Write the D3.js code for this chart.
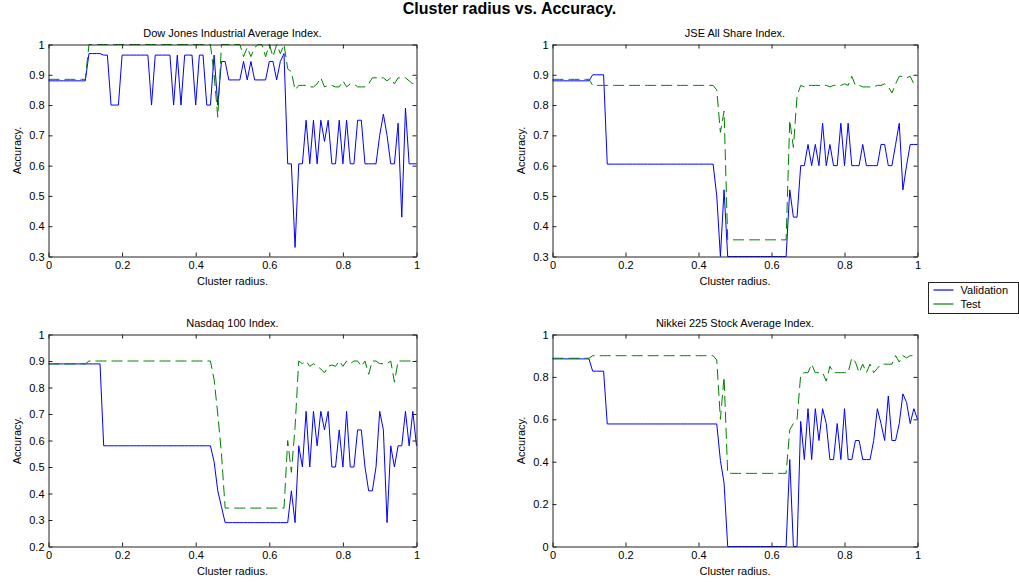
<!DOCTYPE html>
<html>
<head>
<meta charset="utf-8">
<script src="https://cdn.jsdelivr.net/npm/d3@7"></script>
<style>
  body { margin: 0; background: #fff; }
  text { font-family: "Liberation Sans", Arial, sans-serif; fill: #000; }
</style>
</head>
<body>
<div id="chart"></div>
<script>
// cluster radius samples (x axis)
const radius = [0,0.01,0.02,0.03,0.04,0.05,0.06,0.07,0.08,0.09,
  0.1,0.11,0.12,0.13,0.14,0.15,0.16,0.17,0.18,0.19,
  0.2,0.21,0.22,0.23,0.24,0.25,0.26,0.27,0.28,0.29,
  0.3,0.31,0.32,0.33,0.34,0.35,0.36,0.37,0.38,0.39,
  0.4,0.41,0.42,0.43,0.44,0.45,0.46,0.47,0.48,0.49,
  0.5,0.51,0.52,0.53,0.54,0.55,0.56,0.57,0.58,0.59,
  0.6,0.61,0.62,0.63,0.64,0.65,0.66,0.67,0.68,0.69,
  0.7,0.71,0.72,0.73,0.74,0.75,0.76,0.77,0.78,0.79,
  0.8,0.81,0.82,0.83,0.84,0.85,0.86,0.87,0.88,0.89,
  0.9,0.91,0.92,0.93,0.94,0.95,0.96,0.97,0.98,0.99,1];

const djValidation = [0.88,0.88,0.88,0.88,0.88,0.88,0.88,0.88,0.88,0.88,
  0.88,0.97,0.97,0.97,0.97,0.965,0.965,0.8,0.8,0.8,
  0.965,0.965,0.965,0.965,0.965,0.965,0.965,0.965,0.8,0.965,
  0.965,0.965,0.965,0.965,0.8,0.965,0.8,0.965,0.965,0.965,
  0.8,0.965,0.965,0.8,0.8,0.965,0.8,0.944,0.944,0.883,
  0.883,0.883,0.883,0.944,0.883,0.944,0.883,0.883,0.883,0.883,
  0.944,0.944,0.883,0.944,0.97,0.606,0.606,0.33,0.606,0.606,
  0.75,0.606,0.75,0.606,0.75,0.68,0.75,0.606,0.606,0.75,
  0.606,0.75,0.606,0.606,0.75,0.75,0.606,0.606,0.606,0.606,
  0.70,0.77,0.70,0.606,0.606,0.74,0.43,0.79,0.606,0.606,0.606];
const djTest = [0.885,0.885,0.885,0.885,0.885,0.885,0.885,0.885,0.885,0.885,
  0.885,1,1,1,1,1,1,1,1,1,
  1,1,1,1,1,1,1,1,1,1,
  1,1,1,1,1,1,1,1,1,1,
  1,1,1,1,1,0.9,0.76,1,1,1,
  1,1,1,0.96,0.99,0.96,0.99,1,1,0.96,
  1,0.96,1,0.97,1,0.92,0.91,0.85,0.865,0.865,
  0.865,0.86,0.86,0.87,0.89,0.86,0.865,0.865,0.86,0.86,
  0.88,0.86,0.87,0.87,0.86,0.86,0.86,0.87,0.89,0.89,
  0.89,0.89,0.88,0.89,0.87,0.89,0.89,0.89,0.88,0.87,0.89];

const jseValidation = [0.88,0.88,0.88,0.88,0.88,0.88,0.88,0.88,0.88,0.88,
  0.88,0.9,0.9,0.9,0.9,0.605,0.605,0.605,0.605,0.605,
  0.605,0.605,0.605,0.605,0.605,0.605,0.605,0.605,0.605,0.605,
  0.605,0.605,0.605,0.605,0.605,0.605,0.605,0.605,0.605,0.605,
  0.605,0.605,0.605,0.605,0.605,0.5,0.3,0.52,0.3,0.3,
  0.3,0.3,0.3,0.3,0.3,0.3,0.3,0.3,0.3,0.3,
  0.3,0.3,0.3,0.3,0.3,0.52,0.43,0.43,0.6,0.6,
  0.67,0.6,0.67,0.6,0.74,0.6,0.67,0.6,0.6,0.74,
  0.6,0.74,0.6,0.6,0.6,0.67,0.6,0.6,0.6,0.6,
  0.67,0.67,0.6,0.6,0.67,0.74,0.52,0.6,0.67,0.67,0.67];
const jseTest = [0.885,0.885,0.885,0.885,0.885,0.885,0.885,0.885,0.885,0.885,
  0.885,0.865,0.865,0.865,0.865,0.865,0.865,0.865,0.865,0.865,
  0.865,0.865,0.865,0.865,0.865,0.865,0.865,0.865,0.865,0.865,
  0.865,0.865,0.865,0.865,0.865,0.865,0.865,0.865,0.865,0.865,
  0.865,0.865,0.865,0.865,0.865,0.85,0.71,0.78,0.355,0.355,
  0.355,0.355,0.355,0.355,0.355,0.355,0.355,0.355,0.355,0.355,
  0.355,0.355,0.355,0.355,0.355,0.75,0.66,0.83,0.865,0.86,
  0.865,0.865,0.865,0.865,0.865,0.865,0.86,0.865,0.865,0.865,
  0.87,0.865,0.895,0.865,0.865,0.86,0.86,0.86,0.86,0.865,
  0.865,0.87,0.86,0.84,0.87,0.895,0.895,0.89,0.895,0.87,0.86];

const nasdaqValidation = [0.889,0.889,0.889,0.889,0.889,0.889,0.889,0.889,0.889,0.889,
  0.889,0.889,0.889,0.889,0.889,0.58,0.58,0.58,0.58,0.58,
  0.58,0.58,0.58,0.58,0.58,0.58,0.58,0.58,0.58,0.58,
  0.58,0.58,0.58,0.58,0.58,0.58,0.58,0.58,0.58,0.58,
  0.58,0.58,0.58,0.58,0.58,0.52,0.41,0.35,0.29,0.29,
  0.29,0.29,0.29,0.29,0.29,0.29,0.29,0.29,0.29,0.29,
  0.29,0.29,0.29,0.29,0.29,0.29,0.41,0.29,0.58,0.5,
  0.71,0.5,0.71,0.58,0.71,0.64,0.71,0.5,0.5,0.64,
  0.5,0.71,0.5,0.5,0.64,0.64,0.5,0.41,0.41,0.5,
  0.71,0.64,0.29,0.58,0.5,0.58,0.58,0.71,0.58,0.71,0.58];
const nasdaqTest = [0.889,0.889,0.889,0.889,0.889,0.889,0.889,0.889,0.889,0.889,
  0.889,0.9,0.9,0.9,0.9,0.9,0.9,0.9,0.9,0.9,
  0.9,0.9,0.9,0.9,0.9,0.9,0.9,0.9,0.9,0.9,
  0.9,0.9,0.9,0.9,0.9,0.9,0.9,0.9,0.9,0.9,
  0.9,0.9,0.9,0.9,0.9,0.83,0.7,0.55,0.345,0.345,
  0.345,0.345,0.345,0.345,0.345,0.345,0.345,0.345,0.345,0.345,
  0.345,0.345,0.345,0.345,0.345,0.6,0.48,0.65,0.9,0.89,
  0.9,0.88,0.89,0.88,0.87,0.855,0.88,0.885,0.88,0.9,
  0.88,0.9,0.89,0.9,0.9,0.88,0.9,0.85,0.9,0.9,
  0.89,0.89,0.89,0.9,0.82,0.9,0.9,0.9,0.9,0.9,0.9];

const nikkeiValidation = [0.885,0.885,0.885,0.885,0.885,0.885,0.885,0.885,0.885,0.885,
  0.885,0.827,0.827,0.827,0.827,0.578,0.578,0.578,0.578,0.578,
  0.578,0.578,0.578,0.578,0.578,0.578,0.578,0.578,0.578,0.578,
  0.578,0.578,0.578,0.578,0.578,0.578,0.578,0.578,0.578,0.578,
  0.578,0.578,0.578,0.578,0.578,0.578,0.406,0.3,0,0,
  0,0,0,0,0,0,0,0,0,0,
  0,0,0,0,0,0.41,0,0,0.59,0.41,
  0.65,0.41,0.65,0.5,0.65,0.58,0.41,0.41,0.58,0.41,
  0.65,0.41,0.41,0.5,0.5,0.41,0.41,0.41,0.5,0.65,
  0.58,0.5,0.71,0.5,0.5,0.58,0.72,0.68,0.58,0.65,0.6];
const nikkeiTest = [0.888,0.888,0.888,0.888,0.888,0.888,0.888,0.888,0.888,0.888,
  0.888,0.9,0.9,0.9,0.9,0.9,0.9,0.9,0.9,0.9,
  0.9,0.9,0.9,0.9,0.9,0.9,0.9,0.9,0.9,0.9,
  0.9,0.9,0.9,0.9,0.9,0.9,0.9,0.9,0.9,0.9,
  0.9,0.9,0.9,0.9,0.9,0.88,0.6,0.8,0.345,0.345,
  0.345,0.345,0.345,0.345,0.345,0.345,0.345,0.345,0.345,0.345,
  0.345,0.345,0.345,0.345,0.345,0.55,0.58,0.6,0.81,0.82,
  0.82,0.86,0.82,0.82,0.82,0.78,0.85,0.82,0.82,0.82,
  0.82,0.82,0.89,0.87,0.82,0.86,0.82,0.86,0.82,0.84,
  0.86,0.86,0.86,0.86,0.9,0.87,0.9,0.89,0.9,0.9,0.9];

const xTicks = [0, 0.2, 0.4, 0.6, 0.8, 1];
const yTicksTop = [0.3, 0.4, 0.5, 0.6, 0.7, 0.8, 0.9, 1];
const yTicksNasdaq = [0.2, 0.3, 0.4, 0.5, 0.6, 0.7, 0.8, 0.9, 1];
const yTicksNikkei = [0, 0.2, 0.4, 0.6, 0.8, 1];
const seriesNames = ["Validation", "Test"];

const width = 1019;
const height = 582;
const blue = "#0000ff";
const green = "#008000";

const svg = d3.select("#chart")
  .append("svg")
  .attr("width", width)
  .attr("height", height);

svg.append("text")
  .attr("x", width / 2)
  .attr("y", 14)
  .attr("text-anchor", "middle")
  .style("font-size", "16px")
  .style("font-weight", "bold")
  .text("Cluster radius vs. Accuracy.");

const panels = [
  { title: "Dow Jones Industrial Average Index.", left: 48, top: 44, val: djValidation, test: djTest, yDomain: [0.3, 1], yTicks: yTicksTop },
  { title: "JSE All Share Index.", left: 552, top: 44, val: jseValidation, test: jseTest, yDomain: [0.3, 1], yTicks: yTicksTop },
  { title: "Nasdaq 100 Index.", left: 48, top: 334, val: nasdaqValidation, test: nasdaqTest, yDomain: [0.2, 1], yTicks: yTicksNasdaq },
  { title: "Nikkei 225 Stock Average Index.", left: 552, top: 334, val: nikkeiValidation, test: nikkeiTest, yDomain: [0, 1], yTicks: yTicksNikkei }
];

const drawPanel = p => {
  const w = p.left === 48 ? 368 : 365;
  const h = 212;
  const g = svg.append("g")
    .attr("transform", `translate(${p.left + 0.5},${p.top + 0.5})`);

  const x = d3.scaleLinear().domain([0, 1]).range([0, w]);
  const y = d3.scaleLinear().domain(p.yDomain).range([h, 0]);

  const line = d3.line()
    .x((d, i) => x(radius[i]))
    .y(d => y(d));

  g.append("path")
    .datum(p.val)
    .attr("fill", "none")
    .attr("stroke", blue)
    .attr("stroke-width", 1)
    .attr("d", line);

  g.append("path")
    .datum(p.test)
    .attr("fill", "none")
    .attr("stroke", green)
    .attr("stroke-width", 1)
    .attr("stroke-dasharray", "11,5")
    .attr("d", line);

  // MATLAB style box: ticks inside on all four sides
  const styleAxis = a => {
    a.selectAll("path, line").attr("stroke", "#222");
    a.selectAll("text").style("font-size", "11px").attr("fill", "#000");
  };

  g.append("g")
    .attr("transform", `translate(0,${h})`)
    .call(d3.axisBottom(x).tickValues(xTicks).tickSizeInner(-4).tickSizeOuter(0).tickPadding(5).tickFormat(d => d))
    .call(styleAxis);
  g.append("g")
    .call(d3.axisTop(x).tickValues(xTicks).tickSizeInner(-4).tickSizeOuter(0).tickFormat(""))
    .call(styleAxis);
  g.append("g")
    .call(d3.axisLeft(y).tickValues(p.yTicks).tickSizeInner(-4).tickSizeOuter(0).tickPadding(4).tickFormat(d => d))
    .call(styleAxis);
  g.append("g")
    .attr("transform", `translate(${w},0)`)
    .call(d3.axisRight(y).tickValues(p.yTicks).tickSizeInner(-4).tickSizeOuter(0).tickFormat(""))
    .call(styleAxis);

  g.append("text")
    .attr("x", w / 2)
    .attr("y", -8)
    .attr("text-anchor", "middle")
    .style("font-size", "11px")
    .text(p.title);

  g.append("text")
    .attr("x", w / 2)
    .attr("y", h + 28)
    .attr("text-anchor", "middle")
    .style("font-size", "11px")
    .text("Cluster radius.");

  g.append("text")
    .attr("transform", `translate(-28,${h / 2}) rotate(-90)`)
    .attr("text-anchor", "middle")
    .style("font-size", "11px")
    .text("Accuracy.");
};

panels.forEach(drawPanel);

// legend
const legend = svg.append("g").attr("transform", "translate(928.5,282.5)");
legend.append("rect")
  .attr("width", 90)
  .attr("height", 31)
  .attr("fill", "#fff")
  .attr("stroke", "#222");

legend.selectAll(".entry")
  .data(seriesNames)
  .enter()
  .append("g")
  .attr("class", "entry")
  .attr("transform", (d, i) => `translate(0,${7.5 + i * 14})`)
  .each(function (d, i) {
    const e = d3.select(this);
    e.append("line")
      .attr("x1", 5).attr("x2", 25)
      .attr("stroke", i === 0 ? blue : green)
      .attr("stroke-width", 1.2);
    e.append("text")
      .attr("x", 32)
      .attr("y", 4)
      .style("font-size", "11px")
      .text(d);
  });
</script>
</body>
</html>
